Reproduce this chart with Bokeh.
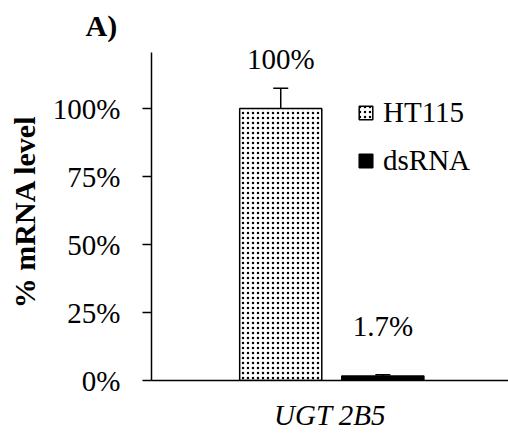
from bokeh.plotting import figure
from bokeh.models import (ColumnDataSource, FactorRange, Range1d, FixedTicker,
                          PrintfTickFormatter, Whisker, TeeHead, Legend, LegendItem,
                          LabelSet)
from bokeh.transform import dodge
from bokeh.embed import file_html
from bokeh.resources import INLINE

# Relative mRNA expression of UGT 2B5 after RNAi feeding
gene = "UGT 2B5"
treatments = ["HT115", "dsRNA"]
mrna_level = [100.0, 1.7]      # % of control
mrna_err = [7.5, 0.4]          # error bar half-width, %
value_labels = ["100%", "1.7%"]
y_ticks = [0, 25, 50, 75, 100]
axis_top = 120.5

FONT = "'Liberation Serif', 'Times New Roman', serif"
TXT = "29px"

# frame reaches a little above the axis top so the value labels have room
p = figure(width=508, height=434,
           x_range=FactorRange(gene, range_padding=0),
           y_range=Range1d(0, 124.3),
           output_backend="svg", toolbar_location=None,
           min_border_left=151, min_border_right=0,
           min_border_top=42, min_border_bottom=54)

p.grid.visible = False
p.outline_line_color = None
p.background_fill_color = "white"

# bar placement within the single gene group
offsets = {"HT115": -0.138, "dsRNA": 0.148}
bar_style = {
    "HT115": dict(fill_color="white", hatch_pattern="dot", hatch_color="black",
                  hatch_scale=5, hatch_weight=1.1),
    "dsRNA": dict(fill_color="black"),
}

legend_items = []
for name, lvl, err, lab in zip(treatments, mrna_level, mrna_err, value_labels):
    src = ColumnDataSource(dict(x=[gene], top=[lvl], upper=[lvl + err],
                                lower=[lvl - err], label=[lab]))
    xpos = dodge("x", offsets[name], range=p.x_range)
    r = p.vbar(x=xpos, top="top", width=0.23, source=src,
               line_color="black", line_width=1.5, **bar_style[name])
    legend_items.append(LegendItem(label=name, renderers=[r]))

    p.add_layout(Whisker(base=xpos, upper="upper", lower="lower", source=src,
                         line_color="black", line_width=1.5,
                         upper_head=TeeHead(size=15, line_width=1.5, line_color="black"),
                         lower_head=TeeHead(size=15, line_width=1.5, line_color="black")))

    # value label above each bar
    p.add_layout(LabelSet(x=xpos, y="top", text="label", source=src, y_offset=50,
                          text_align="center", text_baseline="middle",
                          text_font=FONT, text_font_size=TXT, text_color="black"))

legend = Legend(items=legend_items, location=(206, 203),
                glyph_width=17, glyph_height=17, label_standoff=9,
                spacing=15, padding=0, margin=0,
                label_text_font=FONT, label_text_font_size=TXT,
                label_text_color="black",
                border_line_alpha=0, background_fill_alpha=0)
p.add_layout(legend)

# y axis
ya = p.yaxis[0]
ya.bounds = (0, axis_top)
ya.ticker = FixedTicker(ticks=y_ticks)
ya.formatter = PrintfTickFormatter(format="%d%%")
ya.major_tick_in = 0
ya.major_tick_out = 9
ya.minor_tick_line_color = None
ya.major_tick_line_width = 1.5
ya.major_tick_line_color = "black"
ya.axis_line_width = 1.5
ya.axis_line_color = "black"
ya.major_label_standoff = 22
ya.major_label_text_font = FONT
ya.major_label_text_font_size = TXT
ya.major_label_text_color = "black"
ya.axis_label = "% mRNA level"
ya.axis_label_text_font = FONT
ya.axis_label_text_font_size = "30px"
ya.axis_label_text_font_style = "bold"
ya.axis_label_text_color = "black"
ya.axis_label_standoff = 9

# x axis
xa = p.xaxis[0]
xa.major_tick_in = 0
xa.major_tick_out = 0
xa.minor_tick_line_color = None
xa.axis_line_width = 1.5
xa.axis_line_color = "black"
xa.major_label_standoff = 18
xa.major_label_text_font = FONT
xa.major_label_text_font_size = TXT
xa.major_label_text_font_style = "italic"
xa.major_label_text_color = "black"

# panel tag
p.title.text = "A)"
p.title.align = "left"
p.title.offset = -66
p.title.standoff = 2
p.title.text_font = FONT
p.title.text_font_size = "30px"
p.title.text_font_style = "bold"
p.title.text_color = "black"

open("out.html", "w").write(file_html(p, INLINE))
